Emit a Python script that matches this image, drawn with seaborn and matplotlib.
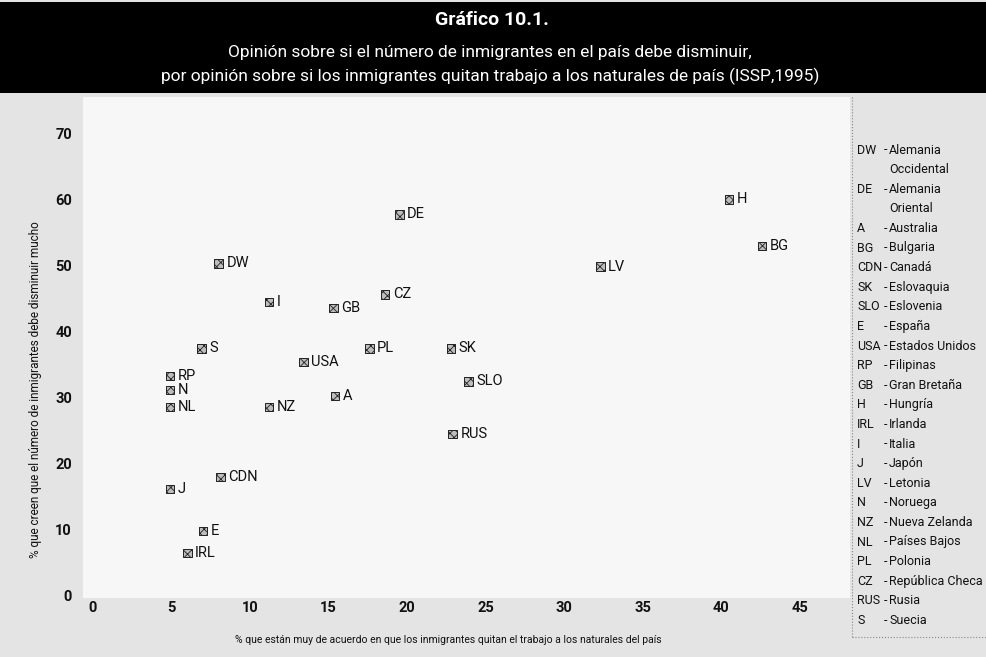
import numpy as np
import pandas as pd
import seaborn as sns
import matplotlib
matplotlib.use('Agg')
import matplotlib.pyplot as plt
from matplotlib.patches import Rectangle

# datos (ISSP 1995)
codes = ['DW', 'DE', 'H', 'BG', 'LV', 'I', 'GB', 'CZ', 'S', 'USA', 'PL', 'SK',
         'SLO', 'A', 'RUS', 'RP', 'N', 'NL', 'NZ', 'CDN', 'J', 'E', 'IRL']
x_vals = [8.0, 19.5, 40.5, 42.6, 32.3, 11.2, 15.3, 18.6, 6.9, 13.4, 17.6, 22.8,
          23.9, 15.4, 22.9, 4.9, 4.9, 4.9, 11.2, 8.1, 4.9, 7.0, 6.0]
y_vals = [50.3, 57.7, 60.0, 52.9, 49.8, 44.4, 43.5, 45.6, 37.4, 35.3, 37.4, 37.4,
          32.4, 30.2, 24.4, 33.2, 31.1, 28.5, 28.5, 17.9, 16.1, 9.7, 6.4]

legend_codes = ['DW', '', 'DE', '', 'A', 'BG', 'CDN', 'SK', 'SLO', 'E', 'USA', 'RP',
                'GB', 'H', 'IRL', 'I', 'J', 'LV', 'N', 'NZ', 'NL', 'PL', 'CZ', 'RUS', 'S']
legend_names = ['Alemania', 'Occidental', 'Alemania', 'Oriental', 'Australia',
                'Bulgaria', 'Canadá', 'Eslovaquia', 'Eslovenia', 'España',
                'Estados Unidos', 'Filipinas', 'Gran Bretaña', 'Hungría', 'Irlanda',
                'Italia', 'Japón', 'Letonia', 'Noruega', 'Nueva Zelanda',
                'Países Bajos', 'Polonia', 'República Checa', 'Rusia', 'Suecia']

x_ticks = [0, 5, 10, 15, 20, 25, 30, 35, 40, 45]
y_ticks = [0, 10, 20, 30, 40, 50, 60, 70]

df = pd.DataFrame({'code': codes, 'x': x_vals, 'y': y_vals})

sns.set_style('white')
plt.rcParams['font.family'] = ['Roboto', 'DejaVu Sans']
plt.rcParams['hatch.color'] = '#333333'
plt.rcParams['hatch.linewidth'] = 0.6

W, H = 986, 657
fig = plt.figure(figsize=(9.86, 6.57), dpi=100, facecolor='#e4e4e4')

# banda negra del titulo
fig.add_artist(Rectangle((0, 1 - 93 / H), 1, 91 / H, transform=fig.transFigure,
                         facecolor='black', edgecolor='none', zorder=0))
fig.text(0.499, 1 - 20 / H, 'Gráfico 10.1.', color='white', ha='center', va='center',
         fontsize=14, fontweight='bold')
fig.text(0.497, 1 - 52 / H, 'Opinión sobre si el número de inmigrantes en el país debe disminuir,',
         color='white', ha='center', va='center', fontsize=12.5)
fig.text(0.497, 1 - 76 / H, 'por opinión sobre si los inmigrantes quitan trabajo a los naturales de país (ISSP,1995)',
         color='white', ha='center', va='center', fontsize=12.5)

# area del grafico
left, right, top, bottom = 83, 850, 97, 598
ax = fig.add_axes([left / W, 1 - bottom / H, (right - left) / W, (bottom - top) / H])
ax.set_facecolor('#f7f7f7')

sns.scatterplot(data=df, x='x', y='y', ax=ax, marker='s', s=38,
                color='#bdbdbd', edgecolor='#222222', linewidth=0.7, hatch='xxxx',
                legend=False, zorder=3)

for c, xv, yv in zip(codes, x_vals, y_vals):
    ax.annotate(c, (xv, yv), xytext=(5.5, 0), textcoords='offset points',
                ha='left', va='center', fontsize=10.5, color='#111111')

ax.set_xlim(-0.64, 48.2)
ax.set_ylim(-0.45, 75.5)
ax.set_xticks(x_ticks)
ax.set_yticks(y_ticks)
ax.tick_params(axis='both', length=0, labelsize=10.5, colors='#111111')
ax.tick_params(axis='y', pad=8)
ax.tick_params(axis='x', pad=2)
for lab in ax.get_xticklabels() + ax.get_yticklabels():
    lab.set_fontweight('bold')
for sp in ax.spines.values():
    sp.set_visible(False)

ax.set_xlabel('')
ax.set_ylabel('')
fig.text(448 / W, 1 - 640 / H,
         '% que están muy de acuerdo en que los inmigrantes quitan el trabajo a los naturales del país',
         ha='center', va='center', fontsize=7.5, color='#111111')
fig.text(36 / W, 1 - 390 / H,
         '% que creen que el número de inmigrantes debe disminuir mucho',
         ha='center', va='center', rotation=90, fontsize=8.5, color='#111111')

# leyenda de paises
fig.add_artist(plt.Line2D([852 / W, 852 / W], [1 - 637 / H, 1 - 97 / H],
                          transform=fig.transFigure, color='#888888', lw=0.8, ls=':'))
fig.add_artist(plt.Line2D([852 / W, 1], [1 - 637 / H, 1 - 637 / H],
                          transform=fig.transFigure, color='#888888', lw=0.8, ls=':'))
for i, (c, n) in enumerate(zip(legend_codes, legend_names)):
    ypx = 150 + i * 19.6
    if c:
        fig.text(857 / W, 1 - ypx / H, c, ha='left', va='center', fontsize=9, color='#111111')
        fig.text(884 / W, 1 - ypx / H, '-', ha='left', va='center', fontsize=9, color='#111111')
    fig.text(889 / W, 1 - ypx / H, n, ha='left', va='center', fontsize=9, color='#111111')

plt.savefig('out.png', dpi=100, facecolor=fig.get_facecolor())
